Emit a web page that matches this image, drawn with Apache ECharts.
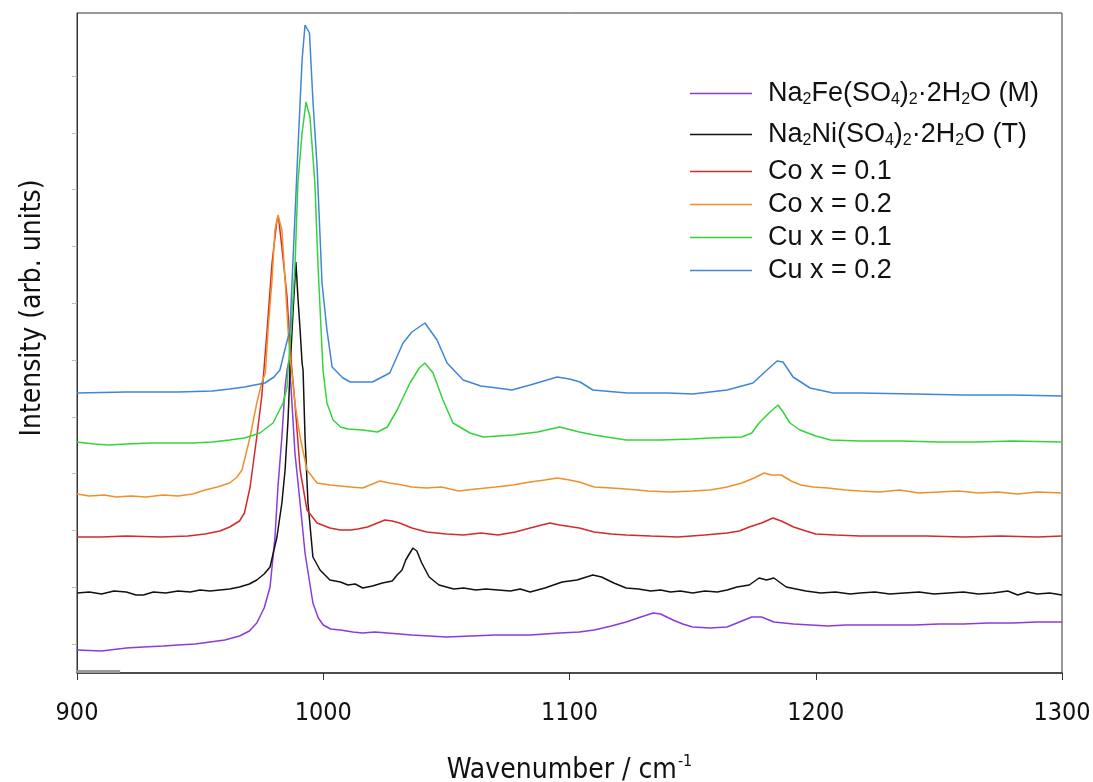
<!DOCTYPE html>
<html>
<head>
<meta charset="utf-8">
<title>Raman spectra</title>
<script src="https://cdn.jsdelivr.net/npm/echarts@6.0.0/dist/echarts.min.js"></script>
<style>
  html, body { margin: 0; padding: 0; background: #fff; }
  #chart { width: 1093px; height: 782px; }
</style>
</head>
<body>
<div id="chart"></div>
<script>
// spectra, [wavenumber, intensity (arb., stacked offset)]
const feM = [[900,23],[910,22],[920,25],[927,26],[935,27],[941,28],[948,29],[954,31],[960,33],[966,37],[970,42],[973,50],[976,65],[978.4,86],[980.4,136],[981.6,186],[983.2,236],[984.5,286],[985.3,303],[986.2,313],[987.3,270],[988.5,220],[990.6,170],[992.6,120],[995.8,70],[998,55],[1000,48],[1003,44],[1007,43],[1012,41],[1016,40],[1021,41],[1026,40],[1031,39],[1036,38],[1043,37],[1050,36],[1060,37],[1070,38],[1084,38],[1096,40],[1104,41],[1110,43],[1117,47],[1123,51],[1129,56],[1134,60],[1137,59],[1142,53],[1146,49],[1150,46],[1157,45],[1164,46],[1170,52],[1174,56],[1178,56],[1183,51],[1191,49],[1198,48],[1205,47],[1212,48],[1218,48],[1230,48],[1240,48],[1250,49],[1260,49],[1270,50],[1280,50],[1290,51],[1300,51]]
const niT = [[900,80],[905,81],[910,79],[915,82],[920,81],[924,78],[927,78],[931,81],[936,80],[941,82],[946,81],[950,83],[954,82],[958,83],[962,84],[966,86],[970,89],[973,93],[976,99],[978.4,106],[981.2,136],[983.2,170],[984.5,203],[985.7,253],[986.5,303],[987.7,360],[988.9,411],[989.7,376],[990.6,343],[991.4,310],[991.8,303],[992.6,236],[993.8,170],[995.8,116],[998.7,103],[1002.7,93],[1007,91],[1010,88],[1013,89],[1016,85],[1020,87],[1024,90],[1028,92],[1030,98],[1032,103],[1033.5,113],[1036.4,125],[1038,122],[1040,110],[1043,96],[1047,88],[1050,86],[1053,84],[1057,85],[1062,83],[1066,84],[1071,83],[1076,82],[1080,84],[1084,81],[1090,85],[1097,91],[1103,93],[1109.5,98],[1113,96],[1118,90],[1123,85],[1128,84],[1133,82],[1137,83],[1141,81],[1145,82],[1150,80],[1155,82],[1160,81],[1164,83],[1168,86],[1173,88],[1177,95],[1180,93],[1183,95],[1188,86],[1192,84],[1196,82],[1202,80],[1208,81],[1214,79],[1218,80],[1224,81],[1230,79],[1236,80],[1242,81],[1248,79],[1254,80],[1260,81],[1266,79],[1272,80],[1278,82],[1282,78],[1286,81],[1290,79],[1295,80],[1300,78]]
const co1 = [[900,136],[910,136],[920,137],[934,136],[945,137],[952,139],[958,142],[962,146],[966,152],[968,160],[970.3,186],[973,236],[975,276],[975.8,300],[977.2,343],[979.2,410],[981.2,453],[981.8,456],[983.2,426],[985.3,376],[986.5,325],[988.5,270],[990.6,203],[993.4,163],[997.5,150],[1002.7,145],[1007,143],[1011,143],[1014,144],[1018,146],[1022,150],[1025,153],[1028,152],[1031,150],[1036,145],[1042,141],[1050,139],[1057,138],[1064,140],[1071,138],[1078,141],[1084,145],[1092,150],[1096,148],[1104,145],[1110,141],[1117,139],[1123,138],[1133,137],[1144,136],[1155,138],[1164,140],[1169,142],[1173,146],[1178,150],[1182.6,155],[1186,152],[1191,146],[1196,142],[1200,139],[1208,138],[1218,137],[1230,137],[1245,137],[1260,136],[1275,137],[1290,136],[1300,137]]
const co2 = [[900,179],[905,177],[911,178],[916,176],[922,177],[928,176],[935,178],[941,177],[947,179],[952,183],[957,186],[962,190],[965,196],[967,203],[970.3,236],[973,270],[975,290],[976.5,300],[977.6,343],[979.2,393],[980.4,443],[981.6,458],[983.2,443],[984.5,393],[985.7,343],[986.5,315],[987.3,300],[988.5,270],[990.6,236],[993.4,203],[997.5,190],[1002.7,188],[1007,187],[1011,186],[1016,185],[1020,189],[1023,192],[1027,190],[1032,188],[1036,186],[1042,185],[1048,186],[1055,182],[1062,184],[1070,186],[1077,188],[1084,191],[1090,193],[1095,195],[1100,193],[1104,191],[1110,186],[1117,185],[1123,184],[1132,182],[1141,181],[1150,182],[1157,183],[1164,186],[1170,190],[1175,195],[1179,200],[1182,198],[1186,198],[1190,192],[1194,188],[1199,186],[1205,185],[1212,183],[1218,182],[1226,181],[1234,183],[1242,180],[1250,181],[1258,182],[1266,180],[1274,181],[1282,179],[1290,181],[1300,180]]
const cu1 = [[900,231],[907,229],[913,228],[920,229],[930,230],[940,230],[947,230],[955,231],[962,233],[968,235],[974.3,240],[979.6,250],[983.7,270],[985.3,286],[985.7,303],[987,345],[988.5,406],[989.7,490],[991.4,540],[993,571],[994.6,556],[996.6,490],[997.9,406],[999.9,303],[1001.5,270],[1004,253],[1007,246],[1010,244],[1016,243],[1022,241],[1026,246],[1030,263],[1035.2,290],[1039,305],[1041.3,310],[1044.6,300],[1048.6,273],[1052.7,250],[1059.6,240],[1065,236],[1071,237],[1077,238],[1087,241],[1096,246],[1104,241],[1110,238],[1123,233],[1137,233],[1150,234],[1157,235],[1170,236],[1174,240],[1177,250],[1181,260],[1184.7,268],[1187,260],[1189.5,250],[1193.6,243],[1200,237],[1206,233],[1218,232],[1235,232],[1250,231],[1265,231],[1280,232],[1300,231]]
const cu2 = [[900,280],[920,281],[941,281],[955,282],[962,284],[968,286],[976.3,290],[980,296],[982.4,303],[984.9,328],[986.5,343],[987.3,390],[988.5,456],[989.7,523],[991.4,613],[992.6,648],[993.4,650],[994.4,640],[995.8,573],[997.5,506],[999.5,390],[1001.5,343],[1003.6,306],[1008,295],[1011,291],[1020,291],[1027,300],[1032.4,330],[1036,341],[1041.3,350],[1046.2,333],[1050.3,310],[1056.8,293],[1064,287],[1070.6,285],[1076.6,283],[1084,288],[1095,296],[1100,294],[1104.3,291],[1109.5,283],[1123.4,280],[1140,280],[1150,279],[1164,283],[1174.5,290],[1180.2,303],[1184.3,312],[1186.7,311],[1190.8,296],[1197.7,285],[1207,280],[1218,280],[1240,279],[1260,278],[1280,278],[1300,277]]

const seriesNames = ['Na2Fe(SO4)2·2H2O (M)', 'Na2Ni(SO4)2·2H2O (T)', 'Co x = 0.1', 'Co x = 0.2', 'Cu x = 0.1', 'Cu x = 0.2']
const seriesData = [feM, niT, co1, co2, cu1, cu2]
const colors = ['#8a3bdc', '#111111', '#d42a2a', '#f0902a', '#33d43a', '#3f86d8']

const xTicks = [900, 1000, 1100, 1200, 1300]
const yTicks = [29, 86, 143, 200, 256, 313, 370, 427, 484, 540, 597]
// short grey stub sitting on the x axis at the far left
const baseStub = [900, 917.5]

const font = 'Liberation Sans, Arial, sans-serif'
const narrow = '"Liberation Sans Narrow", "DejaVu Sans Condensed", "Liberation Sans", sans-serif'

// chemical formulas in the legend need subscripts
const legendLabels = {
  'Na2Fe(SO4)2·2H2O (M)': '{n|Na}{s|2}{n|Fe(SO}{s|4}{n|)}{s|2}{n|·2H}{s|2}{n|O (M)}',
  'Na2Ni(SO4)2·2H2O (T)': '{n|Na}{s|2}{n|Ni(SO}{s|4}{n|)}{s|2}{n|·2H}{s|2}{n|O (T)}'
}

const chart = echarts.init(document.getElementById('chart'))

const series = seriesData.map((d, i) => ({
  name: seriesNames[i],
  type: 'line',
  data: d,
  symbol: 'none',
  smooth: false,
  lineStyle: { width: 1.5, color: colors[i] },
  itemStyle: { color: colors[i] }
}))
series[0].markLine = {
  silent: true,
  symbol: 'none',
  label: { show: false },
  lineStyle: { color: '#999', width: 3, type: 'solid' },
  data: [[{ coord: [baseStub[0], 2] }, { coord: [baseStub[1], 2] }]]
}

chart.setOption({
  animation: false,
  backgroundColor: '#fff',
  color: colors,
  grid: {
    left: 77, right: 31, top: 13, bottom: 109,
    outerBoundsMode: 'none',
    containLabel: false,
    show: true, borderColor: '#333', borderWidth: 1
  },
  legend: {
    orient: 'vertical',
    left: 690,
    top: 76,
    padding: 0,
    icon: 'rect',
    itemWidth: 62,
    itemHeight: 1.5,
    itemGap: 6,
    data: seriesNames,
    formatter: (name) => legendLabels[name] || '{n|' + name + '}',
    textStyle: {
      padding: [0, 0, 0, 11],
      rich: {
        n: { fontSize: 27, fontFamily: font, color: '#111', lineHeight: 30, verticalAlign: 'middle' },
        s: { fontSize: 16, fontFamily: font, color: '#111', lineHeight: 14, padding: [16, 0, 3, 0], verticalAlign: 'middle' }
      }
    }
  },
  xAxis: {
    type: 'value',
    min: 900,
    max: 1300,
    interval: 100,
    name: '{n|Wavenumber / cm}{p|-1}',
    nameLocation: 'middle',
    nameGap: 82,
    nameTextStyle: {
      rich: {
        n: { fontSize: 28, fontFamily: narrow, color: '#111', lineHeight: 32, verticalAlign: 'middle' },
        p: { fontSize: 16, fontFamily: narrow, color: '#111', lineHeight: 14, padding: [0, 0, 18, 1], verticalAlign: 'middle' }
      }
    },
    axisLine: { lineStyle: { color: '#333', width: 1.5 } },
    axisTick: { length: 7, lineStyle: { color: '#333' } },
    axisLabel: {
      fontSize: 25, fontFamily: narrow, color: '#111', margin: 28,
      customValues: xTicks,
      formatter: (v) => String(v)
    },
    splitLine: { show: false }
  },
  yAxis: {
    type: 'value',
    min: 0,
    max: 660,
    name: 'Intensity (arb. units)',
    nameLocation: 'middle',
    nameGap: 30,
    nameTextStyle: { fontSize: 28, fontFamily: narrow, color: '#111', padding: [0, 0, 0, 70] },
    axisLine: { show: true, lineStyle: { color: '#333' } },
    axisTick: { show: true, length: 5, lineStyle: { color: '#bbb' }, customValues: yTicks },
    axisLabel: { show: false },
    splitLine: { show: false }
  },
  series: series
})
</script>
</body>
</html>
